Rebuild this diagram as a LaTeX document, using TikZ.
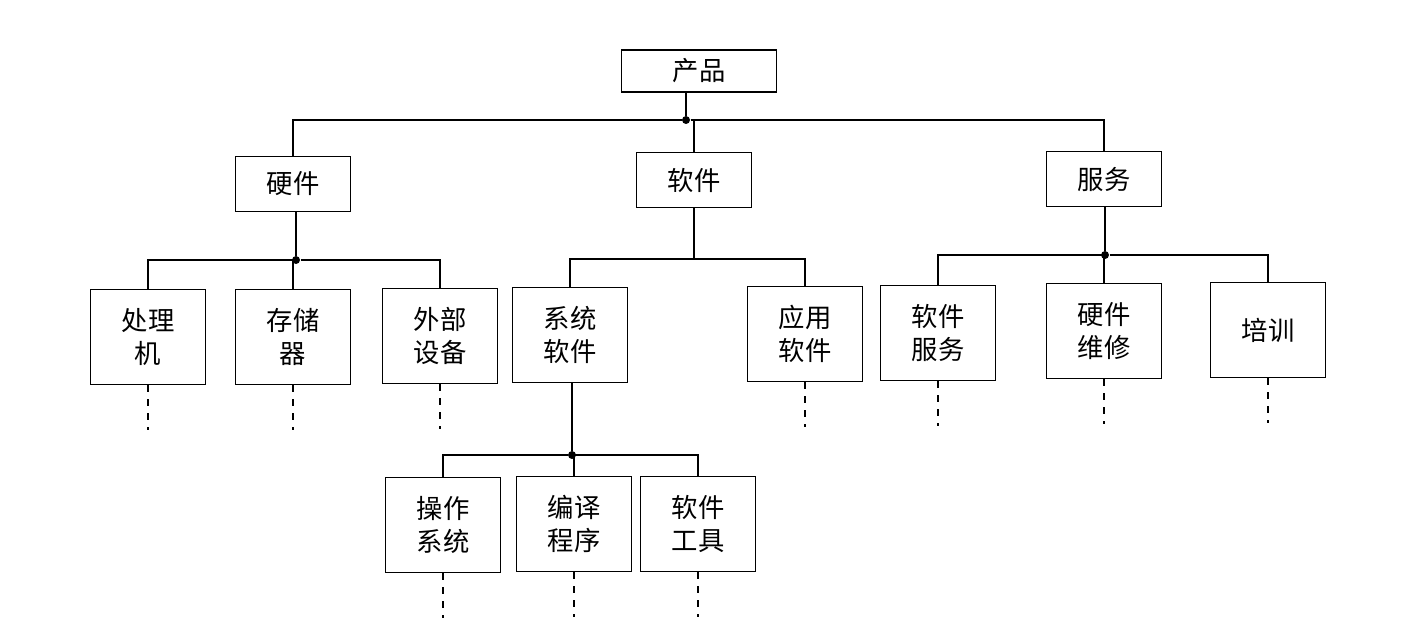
\documentclass[tikz,border=0pt]{standalone}
\usepackage{fontspec}
\setmainfont{Noto Sans CJK SC}
\usetikzlibrary{positioning}
\begin{document}
\begin{tikzpicture}[x=0.02cm,y=-0.02cm,semithick,
  font=\fontsize{15}{19}\selectfont]
  \tikzset{top/.style={draw,minimum width=2.3cm,minimum height=1.1cm,inner sep=2pt},
           leaf/.style={draw,minimum width=2.3cm,minimum height=1.9cm,align=center,inner sep=2pt},
           stub/.style={dashed,dash pattern=on 4pt off 4pt},
           dot/.style={circle,fill,inner sep=1.6pt}}
  \useasboundingbox (0,0) rectangle (1410,633);

  \node[draw,minimum width=3.1cm,minimum height=0.84cm] (P) at (699,71) {产品};
  \node[top] (H) at (293,184) {硬件};
  \node[top] (S) at (694,180) {软件};
  \node[top] (F) at (1104,179) {服务};

  \node[leaf] (H1) at (148,337) {处理\\机};
  \node[leaf] (H2) at (293,337) {存储\\器};
  \node[leaf] (H3) at (440,336) {外部\\设备};
  \node[leaf] (S1) at (570,335) {系统\\软件};
  \node[leaf] (S2) at (805,334) {应用\\软件};
  \node[leaf] (F1) at (938,333) {软件\\服务};
  \node[leaf] (F2) at (1104,331) {硬件\\维修};
  \node[leaf] (F3) at (1268,330) {培训};
  \node[leaf] (T1) at (443,525) {操作\\系统};
  \node[leaf] (T2) at (574,524) {编译\\程序};
  \node[leaf] (T3) at (698,524) {软件\\工具};

  % junctions
  \node[dot] (jP) at (686,120) {};
  \node[dot] (jH) at (296,260) {};
  \coordinate (jS) at (694,259);
  \node[dot] (jF) at (1105,255) {};
  \node[dot] (jT) at (572,455) {};

  \draw (P.south -| jP) -- (jP);
  \foreach \c in {H,S,F} \draw (jP) -| (\c.north);
  \draw (H.south -| jH) -- (jH);
  \foreach \c in {H1,H2,H3} \draw (jH) -| (\c.north);
  \draw (S) -- (jS);
  \foreach \c in {S1,S2} \draw (jS) -| (\c.north);
  \draw (F.south -| jF) -- (jF);
  \foreach \c in {F1,F2,F3} \draw (jF) -| (\c.north);
  \draw (S1.south -| jT) -- (jT);
  \foreach \c in {T1,T2,T3} \draw (jT) -| (\c.north);

  % open branches
  \foreach \c in {H1,H2,H3,S2,F1,F2,F3,T1,T2,T3}
    \draw[stub] (\c.south) -- ++(0,45);
\end{tikzpicture}
\end{document}
